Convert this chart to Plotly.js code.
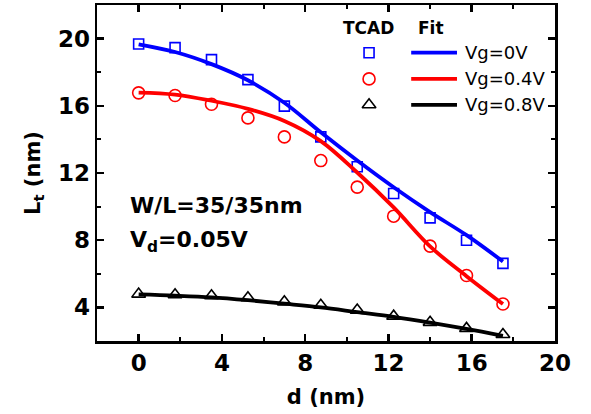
<!DOCTYPE html>
<html><head><meta charset="utf-8">
<script src="https://cdn.plot.ly/plotly-3.0.1.min.js"></script>
<style>html,body{margin:0;padding:0;background:#fff}#chart{width:591px;height:414px}</style>
</head><body><div id="chart"></div>
<script>
// Data
const d = [0, 1.75, 3.5, 5.25, 7, 8.75, 10.5, 12.25, 14, 15.75, 17.5];
const tcad0  = [19.68, 19.46, 18.75, 17.56, 15.98, 14.15, 12.37, 10.78, 9.33, 8.00, 6.62];
const tcad04 = [16.77, 16.61, 16.09, 15.28, 14.15, 12.74, 11.16, 9.43, 7.65, 5.90, 4.20];
const tcad08 = [4.79, 4.75, 4.69, 4.57, 4.33, 4.13, 3.84, 3.48, 3.11, 2.75, 2.39];
const fit0   = [19.66, 19.20, 18.48, 17.52, 16.18, 14.42, 12.74, 11.15, 9.67, 8.30, 6.73];
const fit04  = [16.79, 16.67, 16.30, 15.82, 15.10, 13.90, 12.03, 9.95, 7.63, 5.86, 4.20];
const fit08  = [4.77, 4.70, 4.60, 4.43, 4.22, 4.00, 3.72, 3.44, 3.10, 2.72, 2.31];
const seriesNames = ['Vg=0V', 'Vg=0.4V', 'Vg=0.8V'];
const xTicks = [0, 4, 8, 12, 16, 20];
const yTicks = [4, 8, 12, 16, 20];

const colors = ['#0000ff', '#ff0000', '#000000'];
const symbols = ['square-open', 'circle-open', 'triangle-up-open'];
const msizes = [10, 12, 12];
const tcad = [tcad0, tcad04, tcad08];
const fits = [fit0, fit04, fit08];

const FONT = 'DejaVu Sans, Arial, sans-serif';
const traces = [];
for (let i = 0; i < 3; i++) {
  traces.push({x: d, y: tcad[i], type: 'scatter', mode: 'markers', name: seriesNames[i] + ' TCAD',
    marker: {symbol: symbols[i], size: msizes[i], color: colors[i], line: {width: 1.6, color: colors[i]}},
    showlegend: false, hoverinfo: 'skip'});
}
for (let i = 0; i < 3; i++) {
  traces.push({x: d, y: fits[i], type: 'scatter', mode: 'lines', name: seriesNames[i],
    line: {color: colors[i], width: 3.8, shape: 'spline', smoothing: 1}, showlegend: false, hoverinfo: 'skip'});
}
// legend samples on an overlay axis spanning the plot area
const legX = 0.594, legY = [0.858, 0.780, 0.703], lineX0 = 0.686, lineX1 = 0.786;
for (let i = 0; i < 3; i++) {
  traces.push({x: [legX], y: [legY[i]], xaxis: 'x2', yaxis: 'y2', type: 'scatter', mode: 'markers',
    marker: {symbol: symbols[i], size: msizes[i], color: colors[i], line: {width: 1.6, color: colors[i]}},
    showlegend: false, hoverinfo: 'skip'});
  traces.push({x: [lineX0, lineX1], y: [legY[i], legY[i]], xaxis: 'x2', yaxis: 'y2', type: 'scatter', mode: 'lines',
    line: {color: colors[i], width: 3.8}, showlegend: false, hoverinfo: 'skip'});
}

const annotations = [
  {xref: 'paper', yref: 'paper', x: 0.592, y: 0.932, text: 'TCAD', showarrow: false, xanchor: 'center', yanchor: 'middle',
   font: {family: FONT, size: 17, weight: 'bold', color: '#000'}},
  {xref: 'paper', yref: 'paper', x: 0.729, y: 0.932, text: 'Fit', showarrow: false, xanchor: 'center', yanchor: 'middle',
   font: {family: FONT, size: 17, weight: 'bold', color: '#000'}},
  {xref: 'paper', yref: 'paper', x: 0.068, y: 0.404, text: 'W/L=35/35nm', showarrow: false, xanchor: 'left', yanchor: 'middle',
   font: {family: FONT, size: 22, weight: 'bold', color: '#000'}},
  {xref: 'paper', yref: 'paper', x: 0.068, y: 0.295, text: 'V<sub>d</sub>=0.05V', showarrow: false, xanchor: 'left', yanchor: 'middle',
   font: {family: FONT, size: 22, weight: 'bold', color: '#000'}}
];
for (let i = 0; i < 3; i++) {
  annotations.push({xref: 'paper', yref: 'paper', x: 0.799, y: legY[i], text: seriesNames[i], showarrow: false,
    xanchor: 'left', yanchor: 'middle', font: {family: FONT, size: 18, color: '#000'}});
}

const axisCommon = {
  showline: true, linecolor: '#000', linewidth: 2.5, mirror: 'allticks',
  ticks: 'inside', ticklen: 7, tickwidth: 2.5, tickcolor: '#000',
  showgrid: false, zeroline: false,
  tickfont: {family: FONT, size: 23, weight: 'bold', color: '#000'}
};

const layout = {
  width: 591, height: 414,
  margin: {l: 97, r: 36, t: 5, b: 73, pad: 0},
  paper_bgcolor: '#fff', plot_bgcolor: '#fff',
  showlegend: false,
  xaxis: Object.assign({}, axisCommon, {
    range: [-2, 20], tickmode: 'array', tickvals: xTicks, ticktext: xTicks.map(String),
    minor: {ticks: 'inside', ticklen: 4, tickwidth: 2, tickcolor: '#000', dtick: 2, tick0: 0, showgrid: false},
    title: {text: 'd (nm)', font: {family: FONT, size: 21, weight: 'bold', color: '#000'}, standoff: 14}
  }),
  yaxis: Object.assign({}, axisCommon, {
    range: [2, 22], tickmode: 'array', tickvals: yTicks, ticktext: yTicks.map(String),
    minor: {ticks: 'inside', ticklen: 4, tickwidth: 2, tickcolor: '#000', dtick: 2, tick0: 0, showgrid: false},
    title: {text: 'L<sub>t</sub> (nm)', font: {family: FONT, size: 21, weight: 'bold', color: '#000'}, standoff: 12}
  }),
  xaxis2: {overlaying: 'x', range: [0, 1], visible: false, fixedrange: true},
  yaxis2: {overlaying: 'y', range: [0, 1], visible: false, fixedrange: true},
  annotations: annotations
};

Plotly.newPlot('chart', traces, layout, {displayModeBar: false, staticPlot: true});
</script>
</body></html>
